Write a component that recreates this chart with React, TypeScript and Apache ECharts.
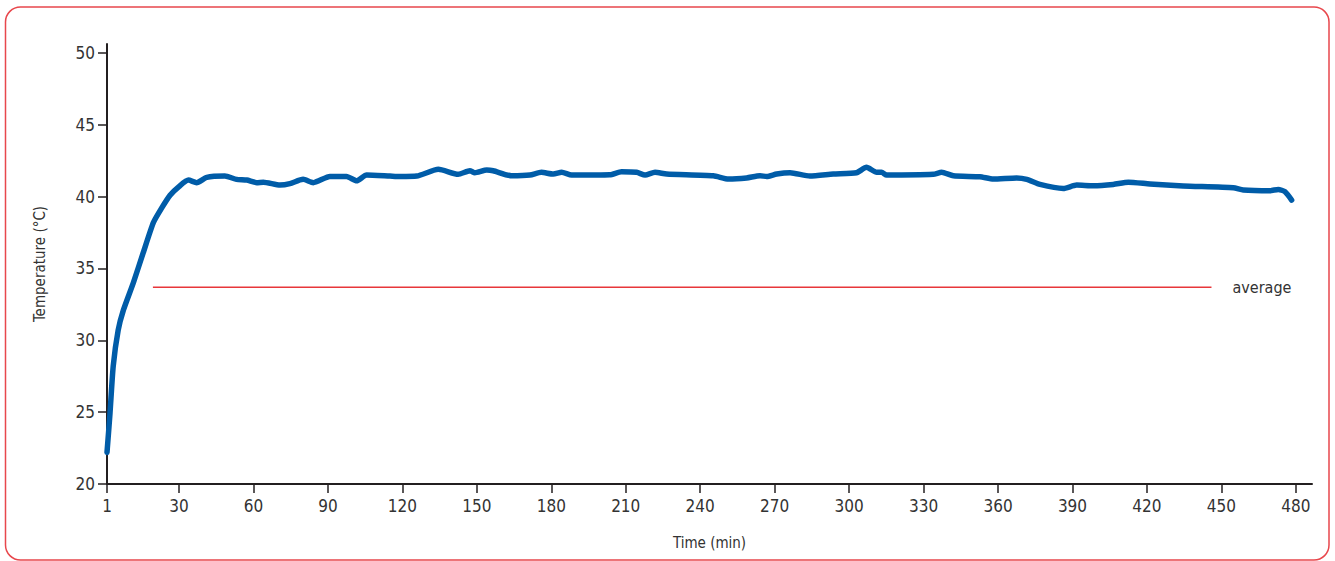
import React, { useEffect, useRef } from "react";
import * as echarts from "echarts";

const times = [1, 2.2, 3.5, 5.5, 7.6, 11.6, 15.6, 19.7, 23, 26.4, 30, 33.8, 37.1, 41.2, 48.5, 53.2, 57.3, 61.3, 64, 70.7, 74.7, 80, 84.1, 90.8, 97.5, 101.6, 105.6, 115, 119, 125.8, 134.5, 142.5, 147.2, 149.2, 154, 156.6, 164, 171.4, 176, 180.8, 184.2, 188.2, 203.6, 208.3, 214.4, 217.8, 221.8, 226.5, 245.3, 251.4, 258.7, 264.1, 266.8, 270.8, 276.2, 284.2, 293.6, 303, 307, 311.1, 313.1, 315.1, 333.9, 337.3, 342, 352.7, 358.1, 367.5, 371.6, 376.9, 386.3, 391.7, 398.4, 406.4, 412.5, 421.2, 434.6, 454.8, 458.8, 469.6, 472.9, 475.6, 478.3];
const temps = [22.2, 24.9, 28.2, 30.7, 32.1, 34.0, 36.1, 38.2, 39.2, 40.1, 40.7, 41.15, 40.97, 41.34, 41.43, 41.2, 41.15, 40.97, 41.0, 40.8, 40.9, 41.2, 40.97, 41.4, 41.4, 41.1, 41.5, 41.43, 41.4, 41.43, 41.9, 41.55, 41.8, 41.66, 41.85, 41.8, 41.45, 41.5, 41.69, 41.57, 41.69, 41.5, 41.52, 41.73, 41.69, 41.5, 41.69, 41.57, 41.45, 41.22, 41.3, 41.45, 41.4, 41.57, 41.66, 41.43, 41.57, 41.66, 42.04, 41.69, 41.69, 41.5, 41.55, 41.69, 41.45, 41.38, 41.22, 41.3, 41.2, 40.85, 40.57, 40.8, 40.76, 40.85, 41.0, 40.88, 40.74, 40.62, 40.46, 40.41, 40.5, 40.34, 39.76];

const xTicks = [1, 30, 60, 90, 120, 150, 180, 210, 240, 270, 300, 330, 360, 390, 420, 450, 480];
const yTicks = [20, 25, 30, 35, 40, 45, 50];

const averageValue = 33.7;
const averageStart = 19.5;
const averageEnd = 446;

const FONT = "DejaVu Sans Condensed";

export default function App() {
  const ref = useRef<HTMLDivElement>(null);
  useEffect(() => {
    if (!ref.current) return;
    const chart = echarts.init(ref.current, null, { renderer: "svg" });
    const axisColor = "#231f20";
    chart.setOption({
      animation: false,
      backgroundColor: "#ffffff",
      grid: { left: 107, right: 23, top: 44, bottom: 77 },
      xAxis: {
        type: "value",
        min: 1,
        max: 486.5,
        name: "Time (min)",
        nameLocation: "middle",
        nameGap: 51,
        nameTextStyle: { color: "#333", fontFamily: FONT, fontSize: 15 },
        splitLine: { show: false },
        axisLine: { show: true, lineStyle: { color: axisColor, width: 2 } },
        axisTick: { show: true, length: 9, customValues: xTicks, lineStyle: { color: axisColor, width: 1.5 } },
        axisLabel: { customValues: xTicks, color: "#333", fontFamily: FONT, fontSize: 17, margin: 13 },
      },
      yAxis: {
        type: "value",
        min: 20,
        max: 50.62,
        name: "Temperature (°C)",
        nameLocation: "middle",
        nameGap: 60,
        nameRotate: 90,
        nameTextStyle: { color: "#333", fontFamily: FONT, fontSize: 15 },
        splitLine: { show: false },
        axisLine: { show: true, lineStyle: { color: axisColor, width: 2 } },
        axisTick: { show: true, length: 9, customValues: yTicks, lineStyle: { color: axisColor, width: 1.5 } },
        axisLabel: { customValues: yTicks, color: "#333", fontFamily: FONT, fontSize: 17, margin: 12 },
      },
      series: [
        {
          type: "line",
          data: [
            [averageStart, averageValue],
            [averageEnd, averageValue],
          ],
          showSymbol: false,
          symbol: "none",
          lineStyle: { color: "#e8363a", width: 1.5 },
          endLabel: {
            show: true,
            formatter: "average",
            color: "#333",
            fontFamily: FONT,
            fontSize: 16,
            distance: 21,
          },
          z: 1,
        },
        {
          type: "line",
          data: times.map((t, i) => [t, temps[i]]),
          showSymbol: false,
          symbol: "none",
          smooth: 0.2,
          lineStyle: { color: "#005ca8", width: 5.5, cap: "round", join: "round" },
          z: 2,
        },
      ],
      graphic: [
        {
          type: "rect",
          shape: { x: 5.5, y: 7, width: 1323.5, height: 553, r: 15 },
          style: { fill: "none", stroke: "#e8474c", lineWidth: 1.5 },
          silent: true,
        },
      ],
    });
    return () => chart.dispose();
  }, []);
  return <div ref={ref} style={{ position: "fixed", left: 0, top: 0, width: 1335, height: 561 }} />;
}
